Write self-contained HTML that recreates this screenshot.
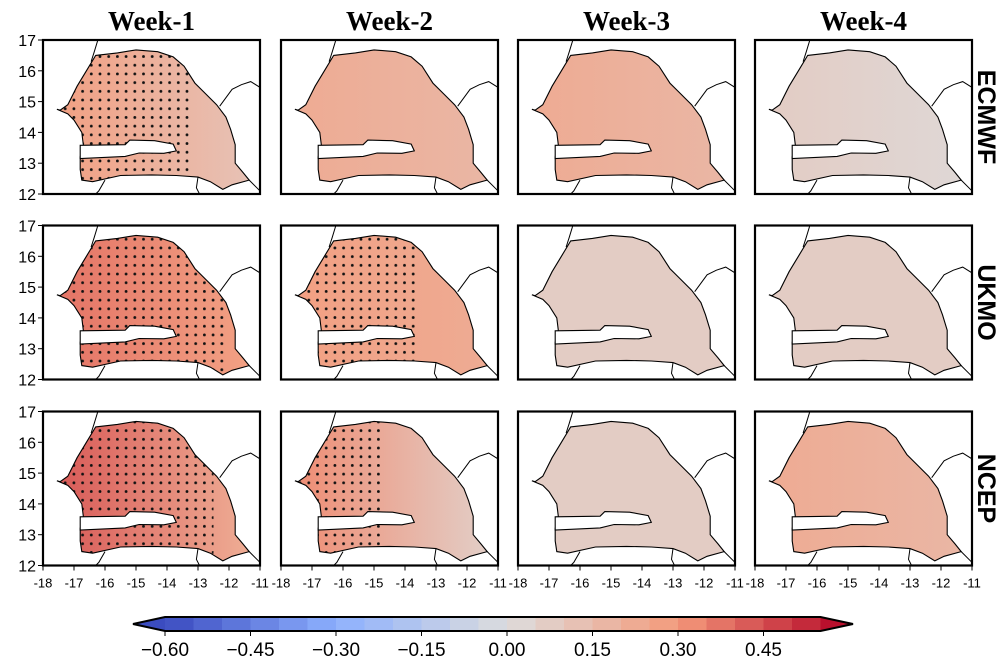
<!DOCTYPE html>
<html><head><meta charset="utf-8"><style>
html,body{margin:0;padding:0;background:#fff;}
svg{display:block;font-family:"Liberation Sans",sans-serif;}
</style></head><body>
<svg id="fig" width="1007" height="670" viewBox="0 0 1007 670"></svg>
<script>
const models = ["ECMWF","UKMO","NCEP"];
const weeks = ["Week-1","Week-2","Week-3","Week-4"];
// west-side and east-side anomaly value per panel (row-major: model x week)
const westValues = [0.30,0.20,0.20,0.08, 0.36,0.30,0.07,0.07, 0.42,0.33,0.06,0.20];
const eastValues = [0.12,0.17,0.15,0.03, 0.30,0.22,0.08,0.10, 0.24,0.05,0.05,0.16];
// easternmost longitude of stippling per panel (-18 = none)
const stippleEast = [-13.3,-18,-18,-18, -12.0,-13.6,-18,-18, -12.5,-14.8,-18,-18];
const yTicks = [17,16,15,14,13,12];
const xTicks = [-18,-17,-16,-15,-14,-13,-12,-11];
const cbTicks = [-0.60,-0.45,-0.30,-0.15,0.00,0.15,0.30,0.45];
const cbMin = -0.6, cbMax = 0.55, cbStep = 0.05;

const senegal = [[-17.45,14.72],[-17.2,14.9],[-16.9,15.5],[-16.6,16.0],[-16.3,16.5],[-15.6,16.58],[-15.0,16.68],[-14.3,16.62],[-13.8,16.45],[-13.45,16.15],[-13.1,15.6],[-12.8,15.3],[-12.4,14.9],[-12.1,14.5],[-11.95,14.1],[-11.8,13.6],[-11.8,13.0],[-11.55,12.7],[-11.35,12.45],[-11.9,12.3],[-12.2,12.15],[-12.6,12.4],[-13.0,12.55],[-13.7,12.6],[-14.5,12.62],[-15.5,12.6],[-16.4,12.4],[-16.75,12.45],[-16.8,12.8],[-16.8,13.2],[-16.7,13.6],[-16.75,14.0],[-17.0,14.4],[-17.2,14.6],[-17.55,14.75]];
const gambia = [[-16.8,13.58],[-15.35,13.6],[-15.2,13.75],[-14.4,13.73],[-13.8,13.62],[-13.7,13.4],[-14.1,13.32],[-14.9,13.33],[-15.35,13.22],[-16.8,13.15]];
const borders = [
 [[-16.2,17.1],[-16.35,16.6],[-16.45,16.3]],
 [[-12.3,14.85],[-11.9,15.4],[-11.6,15.55],[-11.3,15.65],[-10.9,15.4]],
 [[-13.0,12.55],[-13.05,12.2],[-12.9,11.9]],
 [[-16.0,12.45],[-16.2,12.1],[-16.4,11.9]],
 [[-11.35,12.45],[-11.1,12.2],[-10.9,12.0]]
];

function coolwarm(t){
 const a=[[0,59,76,192],[0.25,141,176,254],[0.5,221,221,221],[0.75,244,154,123],[1,180,4,38]];
 t=Math.max(0,Math.min(1,t));
 for(let i=0;i<a.length-1;i++){ if(t<=a[i+1][0]){ const f=(t-a[i][0])/(a[i+1][0]-a[i][0]);
  return `rgb(${Math.round(a[i][1]+f*(a[i+1][1]-a[i][1]))},${Math.round(a[i][2]+f*(a[i+1][2]-a[i][2]))},${Math.round(a[i][3]+f*(a[i+1][3]-a[i][3]))})`; } }
}
function colorOf(v){ const b=Math.floor((v+0.6)/0.05)+0.5; return coolwarm((b*0.05)/1.2); }

const NS="http://www.w3.org/2000/svg";
const svg=document.getElementById('fig');
function el(tag,attrs,parent){ const e=document.createElementNS(NS,tag); for(const k in attrs) e.setAttribute(k,attrs[k]); (parent||svg).appendChild(e); return e; }
const defs=el('defs',{});
const pat=el('pattern',{id:'dots',width:8.7,height:8.7,patternUnits:'userSpaceOnUse'},defs);
el('circle',{cx:4.3,cy:4.3,r:1.4,fill:'#111'},pat);

const colX=[43,281,518,755], rowY=[40,225.5,411.5], PW=217, PH=154;
function ptsStr(arr,X,Y){ return arr.map(p=>X(p[0]).toFixed(1)+','+Y(p[1]).toFixed(1)).join(' '); }

weeks.forEach((w,c)=>{
 const t=el('text',{x:colX[c]+PW/2,y:30,'text-anchor':'middle','font-family':'"Liberation Serif",serif','font-weight':'bold','font-size':27});
 t.textContent=w;
 
 
});
models.forEach((m,r)=>{
 const cy=rowY[r]+PH/2;
 const t=el('text',{x:0,y:0,transform:`translate(978,${cy}) rotate(90)`,'text-anchor':'middle','font-weight':'bold','font-size':25});
 t.textContent=m;
 
 
});

for(let r=0;r<3;r++) for(let c=0;c<4;c++){
 const i=r*4+c, x0=colX[c], y0=rowY[r];
 const X=lon=>x0+(lon+18)*PW/7, Y=lat=>y0+(17-lat)*PH/5;
 const g=el('g',{});
 
 
 const cp=el('clipPath',{id:'cp'+i},defs);
 el('polygon',{points:ptsStr(senegal,X,Y)},cp);
 const pc=el('clipPath',{id:'pc'+i},defs);
 el('rect',{x:x0,y:y0,width:PW,height:PH},pc);
 const gr=el('linearGradient',{id:'gr'+i,x1:X(-17.5),x2:X(-11.5),y1:0,y2:0,gradientUnits:'userSpaceOnUse'},defs);
 el('stop',{offset:0,'stop-color':colorOf(westValues[i])},gr);
 el('stop',{offset:1,'stop-color':colorOf(eastValues[i])},gr);
 const field=el('rect',{x:x0,y:y0,width:PW,height:PH,fill:`url(#gr${i})`,'clip-path':`url(#cp${i})`},g);
 
 
 if(stippleEast[i]>-18){
  const s=el('rect',{x:x0,y:y0,width:X(stippleEast[i])-x0,height:PH,fill:'url(#dots)','clip-path':`url(#cp${i})`},g);
  
  
 }
 el('polygon',{points:ptsStr(senegal,X,Y),fill:'none',stroke:'#000','stroke-width':1.1},g);
 const gm=el('polygon',{points:ptsStr(gambia,X,Y),fill:'#fff',stroke:'#000','stroke-width':1.1},g);
 
 
 const bg=el('g',{'clip-path':`url(#pc${i})`},g);
 borders.forEach(b=>el('polyline',{points:ptsStr(b,X,Y),fill:'none',stroke:'#000','stroke-width':1},bg));
 const fr=el('rect',{x:x0,y:y0,width:PW,height:PH,fill:'none',stroke:'#000','stroke-width':2.2},g);
 
 
 if(c===0){
  yTicks.forEach(v=>{
   el('line',{x1:x0-5,x2:x0,y1:Y(v),y2:Y(v),stroke:'#000','stroke-width':1},g);
   const t=el('text',{x:x0-7,y:Y(v)+6,'text-anchor':'end','font-size':16},g);
   t.textContent=v;
   
   
  });
 }
 if(r===2){
  xTicks.forEach(v=>{
   el('line',{x1:X(v),x2:X(v),y1:y0+PH,y2:y0+PH+5,stroke:'#000','stroke-width':1},g);
   const t=el('text',{x:X(v),y:y0+PH+22,'text-anchor':'middle','font-size':13},g);
   t.textContent=v;
   
   
  });
 }
}

// colorbar
const cb=el('g',{});


const CX=v=>165+(v-cbMin)*570;
const cy0=617, cy1=631;
const nb=Math.round((cbMax-cbMin)/cbStep);
for(let k=0;k<nb;k++){
 const v=cbMin+k*cbStep;
 el('rect',{x:CX(v),y:cy0,width:CX(v+cbStep)-CX(v)+0.5,height:cy1-cy0,fill:colorOf(v+cbStep/2)},cb);
}
el('polygon',{points:`${CX(cbMin)},${cy0} ${CX(cbMin)},${cy1} 133,${(cy0+cy1)/2}`,fill:colorOf(-0.65)},cb);
el('polygon',{points:`${CX(cbMax)},${cy0} ${CX(cbMax)},${cy1} 853,${(cy0+cy1)/2}`,fill:colorOf(0.6)},cb);
el('polygon',{points:`133,${(cy0+cy1)/2} ${CX(cbMin)},${cy0} ${CX(cbMax)},${cy0} 853,${(cy0+cy1)/2} ${CX(cbMax)},${cy1} ${CX(cbMin)},${cy1}`,fill:'none',stroke:'#000','stroke-width':2},cb);
cbTicks.forEach(v=>{
 el('line',{x1:CX(v),x2:CX(v),y1:cy1,y2:cy1+5,stroke:'#000','stroke-width':1},cb);
 const t=el('text',{x:CX(v),y:656,'text-anchor':'middle','font-size':19},cb);
 t.textContent=(v<0?'\u2212':'')+Math.abs(v).toFixed(2);
 
 
});
</script>
</body></html>
